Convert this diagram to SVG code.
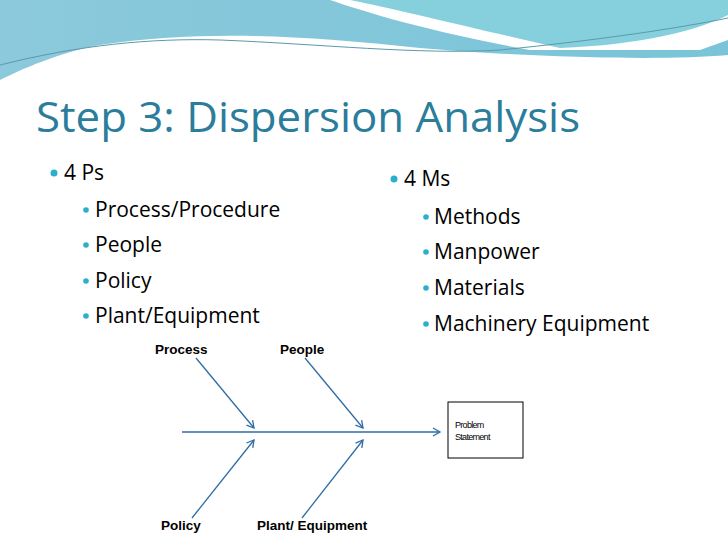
<svg xmlns="http://www.w3.org/2000/svg" width="728" height="546" viewBox="0 0 728 546">
<style>
.t{font-family:"Liberation Sans",Arial,sans-serif}
.b{font-family:"Open Sans","DejaVu Sans",sans-serif;fill:#000}
.c{stroke:#2e6da4;stroke-width:1.3;fill:none}
.l{font-family:"Liberation Sans",Arial,sans-serif;font-weight:bold;font-size:13.5px}
</style>
<defs>
<marker id="a" markerWidth="10" markerHeight="10" refX="8" refY="5" orient="auto" markerUnits="userSpaceOnUse"><path d="M1,1 L8,5 L1,9" fill="none" stroke="#2e6da4" stroke-width="1.3"/></marker>
<linearGradient id="g1" x1="0" y1="0" x2="1" y2="0"><stop offset="0" stop-color="#8cc9dc"/><stop offset="1" stop-color="#79c4d8"/></linearGradient>
</defs>
<rect width="728" height="546" fill="#fff"/>
<g id="waves">
<path d="M0,0 H330 C360,10 420,30 530,50 L700,50 L728,40 V55 C650,62 500,55 420,48 C300,35 200,30 100,45 C60,52 20,70 0,80 Z" fill="url(#g1)"/>
<path d="M350,0 H728 V15 C700,30 640,45 560,48 C480,30 400,10 350,0 Z" fill="#86d0de"/>
<path d="M0,65 C80,45 150,38 220,40 C320,44 420,55 500,50 C600,40 680,28 728,18" fill="none" stroke="#5a9aac" stroke-width="1"/>
</g>
<text x="36" y="132" font-size="42" fill="#2a7d9b" textLength="544" lengthAdjust="spacingAndGlyphs" style="font-family:'Open Sans','DejaVu Sans',sans-serif">Step 3: Dispersion Analysis</text>
<g fill="#2bb0cc">
<circle cx="54" cy="173" r="3.5"/><circle cx="86" cy="210" r="2.8"/><circle cx="86" cy="245" r="2.8"/><circle cx="86" cy="281" r="2.8"/><circle cx="86" cy="316" r="2.8"/>
<circle cx="394" cy="179" r="3.5"/><circle cx="426" cy="217" r="2.8"/><circle cx="426" cy="252" r="2.8"/><circle cx="426" cy="288" r="2.8"/><circle cx="426" cy="324" r="2.8"/>
</g>
<g font-size="21"><text x="64" y="180" class="b">4 Ps</text><text x="404" y="186" class="b">4 Ms</text></g>
<g font-size="21">
<text class="b" x="95" y="217">Process/Procedure</text>
<text class="b" x="95" y="252">People</text>
<text class="b" x="95" y="288">Policy</text>
<text class="b" x="95" y="323">Plant/Equipment</text>
<text class="b" x="434" y="224">Methods</text>
<text class="b" x="434" y="259">Manpower</text>
<text class="b" x="434" y="295">Materials</text>
<text class="b" x="434" y="331">Machinery Equipment</text>
</g>
<g id="connectors">
<line class="c" x1="182" y1="432" x2="440" y2="432" marker-end="url(#a)"/>
<line class="c" x1="196" y1="358" x2="254" y2="428" marker-end="url(#a)"/>
<line class="c" x1="305" y1="358" x2="363" y2="428" marker-end="url(#a)"/>
<line class="c" x1="192" y1="518" x2="254" y2="440" marker-end="url(#a)"/>
<line class="c" x1="302" y1="518" x2="363" y2="440" marker-end="url(#a)"/>
</g>
<g id="process"><text class="l" x="155" y="354">Process</text></g>
<g id="people"><text class="l" x="280" y="354">People</text></g>
<g id="policy"><text class="l" x="161" y="530">Policy</text></g>
<g id="plant"><text class="l" x="257" y="530">Plant/ Equipment</text></g>
<g id="problem"><rect x="448" y="402" width="75" height="56" fill="#fff" stroke="#000" stroke-width="1"/>
<text class="t" x="455" y="428" font-size="9" letter-spacing="-0.7">Problem</text>
<text class="t" x="455" y="440" font-size="9" letter-spacing="-0.7">Statement</text></g>
</svg>
